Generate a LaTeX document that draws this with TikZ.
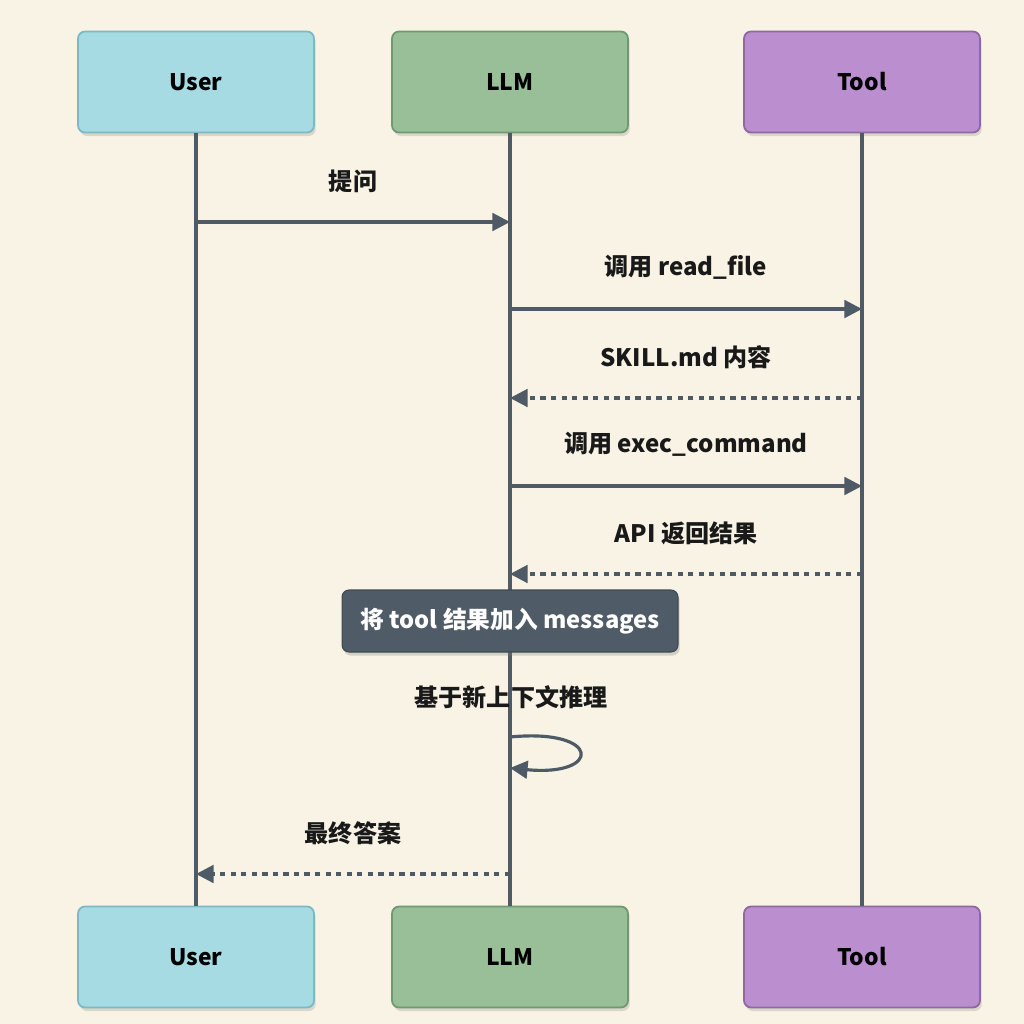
\documentclass[tikz,border=0pt]{standalone}
\usepackage{fontspec}
\setmainfont{Noto Sans CJK SC}
\usepackage{tikz}
\usetikzlibrary{arrows.meta,shadows}

\definecolor{paper}{HTML}{F8F3E4}
\definecolor{wire}{HTML}{4E5A66}
\definecolor{userfill}{HTML}{A7DBE4}
\definecolor{userline}{HTML}{7BB9C4}
\definecolor{llmfill}{HTML}{98BF98}
\definecolor{llmline}{HTML}{6F9A70}
\definecolor{toolfill}{HTML}{BB8FCF}
\definecolor{toolline}{HTML}{8E68A0}
\definecolor{notefill}{HTML}{4F5B66}

\tikzset{
	actor/.style={draw, line width=1pt, rounded corners=4pt, inner sep=0pt,
		minimum width=4.72cm, minimum height=2.02cm, font=\fontsize{13}{16}\selectfont\bfseries,
		drop shadow={shadow xshift=1pt, shadow yshift=-2pt, opacity=0.25}},
	lifeline/.style={wire, line width=2.3pt},
	msg/.style={wire, line width=1.8pt, -{Triangle[length=10pt,width=10pt]}},
	reply/.style={msg, dash pattern=on 3pt off 3pt},
	msglabel/.style={font=\fontsize{13.7}{16}\selectfont\bfseries, text=black!90},
}

\begin{document}
\begin{tikzpicture}[x=0.02cm, y=-0.02cm]
		\fill[paper] (0,0) rectangle (1024,1024);
		\useasboundingbox (0,0) rectangle (1024,1024);
		
		% participants, top and bottom
		\node[actor, fill=userfill, draw=userline] (usertop) at (196,82) {User};
		\node[actor, fill=llmfill, draw=llmline] (llmtop) at (510,82) {LLM};
		\node[actor, fill=toolfill, draw=toolline] (tooltop) at (862,82) {Tool};
		\node[actor, fill=userfill, draw=userline] (userbot) at (196,957) {User};
		\node[actor, fill=llmfill, draw=llmline] (llmbot) at (510,957) {LLM};
		\node[actor, fill=toolfill, draw=toolline] (toolbot) at (862,957) {Tool};
		
		% lifelines
		\draw[lifeline] (usertop) -- (userbot);
		\draw[lifeline] (llmtop) -- (llmbot);
		\draw[lifeline] (tooltop) -- (toolbot);
		
		% message end points on the lifelines
		\coordinate (ask0) at (196,222);   \coordinate (ask1) at (510,222);
		\coordinate (read0) at (510,309);  \coordinate (read1) at (862,309);
		\coordinate (skill0) at (862,398); \coordinate (skill1) at (510,398);
		\coordinate (exec0) at (510,486);  \coordinate (exec1) at (862,486);
		\coordinate (api0) at (862,574);   \coordinate (api1) at (510,574);
		\coordinate (loop0) at (510,737);  \coordinate (loop1) at (510,768);
		\coordinate (ans0) at (510,874);   \coordinate (ans1) at (196,874);
		
		% messages
		\draw[msg] (ask0) -- (ask1) node[msglabel, midway, above=12.5pt] (asklabel) {提问};
		\draw[msg] (read0) -- (read1) node[msglabel, midway, above=12.5pt] (readlabel) {调用 read\_file};
		\draw[reply] (skill0) -- (skill1) node[msglabel, midway, above=12.5pt] (skilllabel) {SKILL.md 内容};
		\draw[msg] (exec0) -- (exec1) node[msglabel, midway, above=12.5pt] (execlabel) {调用 exec\_command};
		\draw[reply] (api0) -- (api1) node[msglabel, midway, above=12.5pt] (apilabel) {API 返回结果};
		
		% note over the LLM
		\node[fill=notefill, draw=notefill!80!black, line width=0.6pt, rounded corners=4pt,
			minimum width=6.72cm, minimum height=1.24cm, text=white,
			font=\fontsize{13.5}{16}\selectfont\bfseries,
			drop shadow={shadow xshift=1pt, shadow yshift=-2pt, opacity=0.3}] (note) at (510,621)
			{将 tool 结果加入 messages};
		
		% self call
		\node[msglabel] (thinklabel) at (511,697) {基于新上下文推理};
		\draw[msg] (loop0) .. controls (602,728) and (602,777) .. (loop1);
		
		% final answer
		\draw[reply] (ans0) -- (ans1) node[msglabel, midway, above=12.5pt] (anslabel) {最终答案};
	\end{tikzpicture}
\end{document}
